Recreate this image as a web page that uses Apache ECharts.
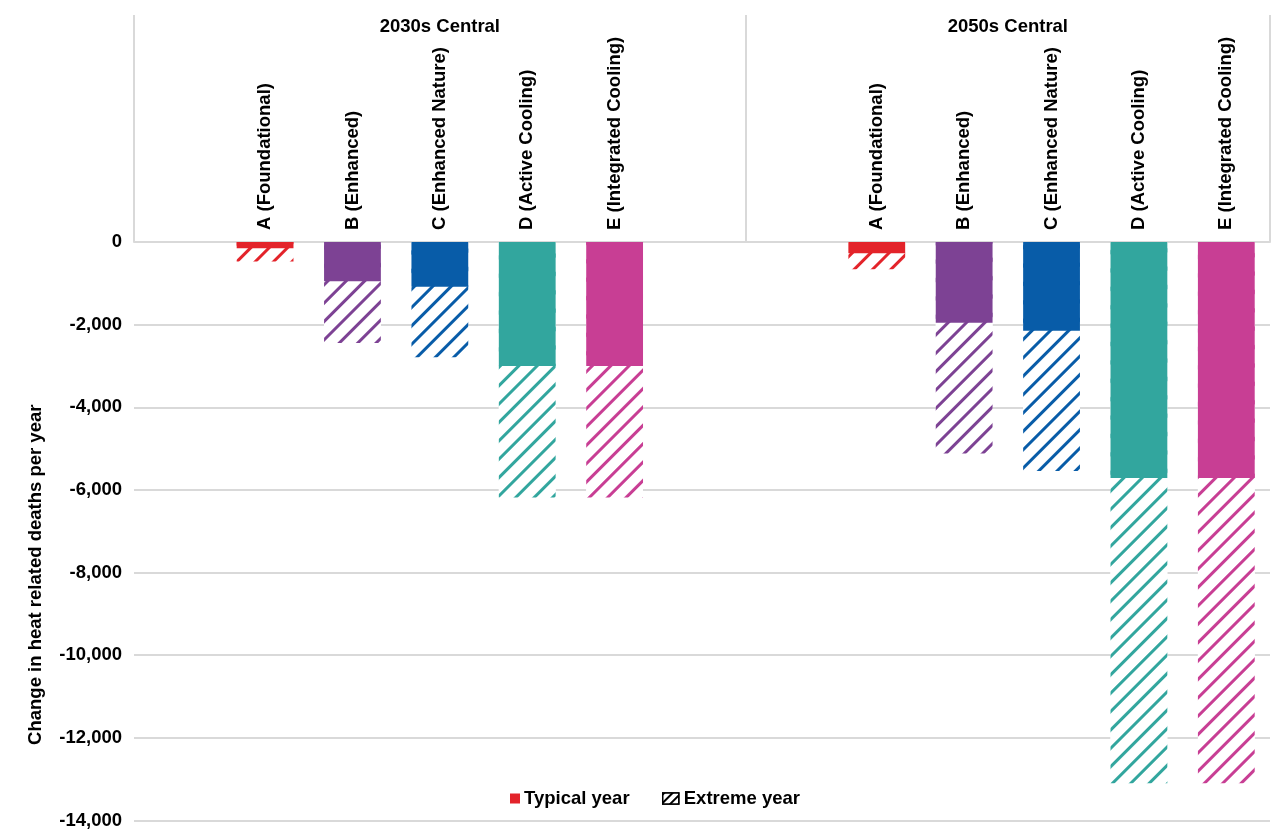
<!DOCTYPE html>
<html>
<head>
<meta charset="utf-8">
<script src="https://cdn.jsdelivr.net/npm/echarts@6/dist/echarts.min.js"></script>
<style>
html,body{margin:0;padding:0;background:#fff;}
#chart{width:1274px;height:830px;}
</style>
</head>
<body>
<div id="chart"></div>
<script>
// ---- data ----
var scenarios = ['A (Foundational)', 'B (Enhanced)', 'C (Enhanced Nature)', 'D (Active Cooling)', 'E (Integrated Cooling)'];
var groups = ['2030s Central', '2050s Central'];
var typical2030 = [-150, -950, -1080, -3000, -3000];
var extreme2030 = [-470, -2445, -2790, -6185, -6185];
var typical2050 = [-275, -1955, -2150, -5710, -5710];
var extreme2050 = [-660, -5120, -5540, -13100, -13100];
var scenarioColors = ['#E3232A', '#7D4294', '#085CA8', '#32A69E', '#C83E94'];
var yTicks = { min: -14000, max: 0, interval: 2000 };
var seriesNames = ['Typical year', 'Extreme year'];

// slot layout: blank, 2030 A-E, blank, | blank, 2050 A-E
var categories = [''].concat(scenarios, ['', ''], scenarios);
var groupCentres = [3.5, 10];   // in category-band units
var groupBounds = [0, 7, 13];

function slots(a, b) { return [null].concat(a, [null, null], b); }
var slotColors = slots(scenarioColors, scenarioColors);

var FONT = 'Liberation Sans, Arial, sans-serif';
var FS = 18.5;

function decalFor(c) {
  return { symbol: 'rect', symbolSize: 1, dashArrayX: [1, 0], dashArrayY: [2.6, 9.4], rotation: -Math.PI / 4, color: c, backgroundColor: '#fff' };
}

var typicalData = slots(typical2030, typical2050).map(function (v, i) {
  return v === null ? null : { value: v, itemStyle: { color: slotColors[i] } };
});
var extremeData = slots(extreme2030, extreme2050).map(function (v, i) {
  return v === null ? null : { value: v, itemStyle: { color: '#fff', decal: decalFor(slotColors[i]) } };
});

var chart = echarts.init(document.getElementById('chart'), null, { renderer: 'canvas' });
chart.setOption({
  backgroundColor: '#fff',
  aria: { enabled: false },
  animation: false,
  textStyle: { fontFamily: FONT },
  grid: { left: 134, right: 4, top: 242, bottom: 9, containLabel: false },
  legend: [
    {
      data: [{ name: seriesNames[0], itemStyle: { color: scenarioColors[0] } }],
      left: 505, top: 784, itemWidth: 10, itemHeight: 10, itemGap: 4, icon: 'rect',
      textStyle: { fontFamily: FONT, fontSize: FS, fontWeight: 'bold', color: '#000', padding: [0, 0, 0, -1] }
    },
    {
      data: [{ name: seriesNames[1], itemStyle: { color: '#fff', borderColor: '#000', borderWidth: 1.5, decal: { symbol: 'rect', symbolSize: 1, dashArrayX: [1, 0], dashArrayY: [1.5, 3.5], rotation: -Math.PI / 4, color: '#000', backgroundColor: '#fff' } } }],
      left: 657, top: 784, itemWidth: 16, itemHeight: 11, itemGap: 4, icon: 'rect',
      textStyle: { fontFamily: FONT, fontSize: FS, fontWeight: 'bold', color: '#000', padding: [0, 0, 0, 0] }
    }
  ],
  xAxis: [
    {
      type: 'category',
      data: categories,
      position: 'top',
      boundaryGap: true,
      axisLine: { show: true, lineStyle: { color: '#d9d9d9', width: 2 } },
      axisTick: { show: false },
      axisLabel: { rotate: 90, margin: 12, interval: 0, fontFamily: FONT, fontSize: FS, fontWeight: 'bold', color: '#000' },
      splitLine: { show: false }
    },
    {
      type: 'value',
      min: 0, max: categories.length,
      position: 'top',
      axisLine: { show: false },
      axisTick: { show: true, customValues: groupBounds, length: 227, lineStyle: { color: '#d9d9d9', width: 2 } },
      axisLabel: {
        show: true, customValues: groupCentres, margin: 206,
        fontFamily: FONT, fontSize: FS, fontWeight: 'bold', color: '#000',
        formatter: function (v) { return v === groupCentres[0] ? groups[0] : groups[1]; }
      },
      splitLine: { show: false }
    }
  ],
  yAxis: {
    type: 'value',
    min: yTicks.min, max: yTicks.max, interval: yTicks.interval,
    name: 'Change in heat related deaths per year',
    nameLocation: 'middle', nameRotate: 90, nameGap: 89,
    nameTextStyle: { fontFamily: FONT, fontSize: FS, fontWeight: 'bold', color: '#000', padding: [0, 87, 0, 0] },
    axisLine: { show: false },
    axisTick: { show: false },
    axisLabel: {
      margin: 12, fontFamily: FONT, fontSize: FS, fontWeight: 'bold', color: '#000',
      formatter: function (v) { return echarts.format.addCommas(v); }
    },
    splitLine: { show: true, lineStyle: { color: '#d9d9d9', width: 2 } }
  },
  series: [
    {
      name: seriesNames[1], type: 'bar', xAxisIndex: 0, barWidth: '65%', barGap: '-100%',
      itemStyle: { color: '#fff' },
      data: extremeData, z: 2
    },
    {
      name: seriesNames[0], type: 'bar', xAxisIndex: 0, barWidth: '65%', barGap: '-100%',
      itemStyle: { color: scenarioColors[0] },
      data: typicalData, z: 3
    }
  ]
});
</script>
</body>
</html>
